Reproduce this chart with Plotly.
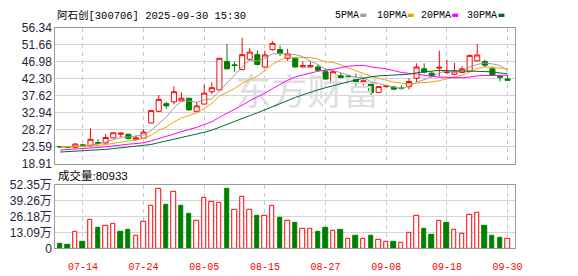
import plotly.graph_objects as go
import pandas as pd

# ---------------- data ----------------
dates = ["07-09", "07-10", "07-11", "07-14", "07-15", "07-16", "07-17", "07-18", "07-21", "07-22",
         "07-23", "07-24", "07-25", "07-28", "07-29", "07-30", "07-31", "08-01", "08-04", "08-05",
         "08-06", "08-07", "08-08", "08-11", "08-12", "08-13", "08-14", "08-15", "08-18", "08-19",
         "08-20", "08-21", "08-22", "08-25", "08-26", "08-27", "08-28", "08-29", "09-01", "09-02",
         "09-03", "09-04", "09-05", "09-08", "09-09", "09-10", "09-11", "09-12", "09-15", "09-16",
         "09-17", "09-18", "09-19", "09-22", "09-23", "09-24", "09-25", "09-26", "09-29", "09-30"]

opens = [23.6, 23.5, 23.4, 24.1, 23.8, 24.7, 24.6, 26.0, 27.0, 27.0,
         25.6, 25.9, 30.1, 33.3, 35.4, 35.9, 36.2, 36.9, 33.3, 35.3,
         38.7, 39.2, 47.0, 46.1, 44.8, 47.6, 48.9, 45.5, 50.3, 50.3,
         47.9, 47.9, 45.5, 45.5, 45.5, 44.2, 41.3, 43.1, 42.95, 42.6,
         41.3, 40.8, 38.5, 40.1, 40.0, 39.7, 40.1, 42.4, 45.0, 43.8,
         45.2, 44.0, 43.5, 44.0, 44.3, 47.2, 47.0, 45.0, 42.9, 42.2]
highs = [23.7, 23.6, 24.5, 24.2, 28.6, 25.6, 27.0, 27.5, 27.4, 27.1,
         26.6, 28.4, 33.6, 37.8, 35.9, 40.2, 38.5, 37.0, 35.9, 40.7,
         41.3, 48.0, 51.8, 47.0, 53.5, 50.7, 50.0, 50.0, 52.6, 51.4,
         50.5, 48.2, 47.0, 47.0, 46.3, 45.0, 44.3, 43.9, 43.3, 43.7,
         42.6, 41.1, 40.2, 40.4, 40.3, 40.5, 42.4, 46.5, 46.5, 44.3,
         50.0, 47.5, 46.6, 45.7, 48.9, 51.8, 47.6, 45.6, 43.0, 43.3]
lows = [23.4, 23.3, 23.2, 23.5, 23.6, 24.3, 24.2, 25.9, 26.1, 25.6,
        25.5, 25.7, 30.0, 33.1, 34.0, 35.2, 35.9, 33.5, 33.2, 35.2,
        38.0, 39.0, 44.8, 44.2, 44.6, 47.2, 45.9, 45.3, 50.0, 48.5,
        47.2, 45.4, 45.4, 45.4, 44.5, 42.0, 41.2, 42.5, 42.1, 40.3,
        40.4, 37.6, 38.4, 39.8, 39.1, 39.2, 39.3, 41.4, 43.7, 42.9,
        42.9, 43.5, 43.3, 43.8, 44.2, 47.0, 45.5, 43.2, 41.5, 41.8]
closes = [23.5, 23.4, 24.3, 23.6, 25.6, 24.5, 26.1, 27.4, 27.3, 25.8,
          26.0, 27.6, 33.5, 36.6, 34.8, 38.7, 36.9, 33.7, 34.8, 38.3,
          39.8, 47.9, 45.0, 45.9, 48.9, 49.6, 46.2, 48.8, 52.0, 49.2,
          49.1, 45.5, 45.9, 45.9, 44.6, 42.2, 44.2, 42.6, 42.9, 41.3,
          41.7, 38.5, 40.1, 40.3, 39.4, 39.6, 41.5, 45.5, 44.1, 43.1,
          45.4, 44.1, 44.4, 45.0, 48.7, 48.8, 46.0, 43.3, 42.7, 41.85]

# estimated closes before 07-09 (implied by the MA levels at the left edge)
prior_closes = [20.6, 20.8, 21.0, 20.9, 21.2, 21.1, 20.9, 21.0, 21.2, 21.3,
                21.4, 21.5, 21.3, 21.6, 21.8, 22.0, 21.9, 22.2, 22.3, 22.5,
                22.9, 23.3, 23.5, 23.6, 23.7, 23.4, 23.6, 23.5, 23.5]

# volume in 万 (10k shares); vol_up: 1 = red (hollow), 0 = green (filled)
volumes = [4.1, 2.6, 13.5, 5.7, 23.4, 16.6, 18.7, 20.3, 13.5, 15.1,
           10.4, 21.9, 35.4, 49.4, 36.2, 46.9, 35.4, 28.6, 22.6, 41.6,
           38.5, 37.5, 48.7, 32.0, 42.4, 32.0, 26.8, 26.8, 35.4, 25.2,
           22.9, 20.8, 15.9, 15.9, 13.8, 16.9, 14.3, 15.1, 8.0, 10.4,
           8.0, 10.4, 7.3, 5.7, 5.7, 4.9, 12.7, 26.8, 15.9, 11.2,
           22.6, 20.8, 15.1, 11.9, 27.6, 29.1, 18.2, 10.4, 8.8, 8.0933]
vol_up = [0, 0, 1, 0, 1, 0, 1, 1, 0, 0, 1, 1, 1, 1, 0, 1, 0, 0, 1, 1,
          1, 1, 0, 1, 1, 1, 0, 1, 1, 0, 1, 0, 1, 1, 0, 0, 1, 0, 1, 0,
          1, 0, 1, 1, 0, 1, 1, 1, 0, 0, 1, 0, 1, 1, 1, 1, 0, 0, 0, 1]

tick_dates = ["07-14", "07-24", "08-05", "08-15", "08-27", "09-08", "09-18", "09-30"]
price_ticks = [18.91, 23.59, 28.27, 32.94, 37.62, 42.30, 46.98, 51.66, 56.34]
price_tick_text = ["18.91", "23.59", "28.27", "32.94", "37.62", "42.30", "46.98", "51.66", "56.34"]
vol_ticks = [0, 13.09, 26.18, 39.26, 52.35]
vol_tick_text = ["0", "13.09万", "26.18万", "39.26万", "52.35万"]

ma_periods = [5, 10, 20, 30]
ma_names = ["5PMA", "10PMA", "20PMA", "30PMA"]
ma_colors = ["#9c9c9c", "#f5a000", "#ff00ff", "#006a2e"]

title_text = "阿石创[300706] 2025-09-30 15:30"
vol_label = "成交量:80933"
watermark = "东方财富"

# ---------------- figure ----------------
W, H = 578, 276
UP, DOWN = "#ff0000", "#008000"
xi = list(range(len(dates)))
tick_idx = [dates.index(d) for d in tick_dates]

def px(x):
    return x / W

def py(y):
    return 1 - y / H

series = pd.Series(prior_closes + closes)
n0 = len(prior_closes)

fig = go.Figure()

# watermark (drawn first so it sits under the marks)
fig.add_trace(go.Scatter(x=[32.6], y=[37.6], mode="text", text=[watermark],
                         textfont=dict(family="Noto Sans CJK SC", size=36, color="#dedee4"),
                         hoverinfo="skip", xaxis="x", yaxis="y"))

for p, name, col in zip(ma_periods, ma_names, ma_colors):
    ma = series.rolling(p).mean().iloc[n0:].tolist()
    fig.add_trace(go.Scatter(x=xi, y=ma, mode="lines", name=name,
                             line=dict(color=col, width=1), xaxis="x", yaxis="y"))

fig.add_trace(go.Candlestick(
    x=xi, open=opens, high=highs, low=lows, close=closes,
    increasing=dict(line=dict(color=UP, width=1), fillcolor="#ffffff"),
    decreasing=dict(line=dict(color=DOWN, width=1), fillcolor=DOWN),
    whiskerwidth=0, xaxis="x", yaxis="y", hoverinfo="skip"))

fig.add_trace(go.Bar(
    x=xi, y=volumes, width=0.58,
    marker=dict(color=["#ffffff" if u else DOWN for u in vol_up],
                line=dict(color=[UP if u else DOWN for u in vol_up], width=1)),
    xaxis="x2", yaxis="y2", hoverinfo="skip"))

X0, X1 = px(56), px(522)
axis_common = dict(showline=True, mirror=True, linecolor="#9a9a9a", linewidth=1,
                   zeroline=False)
xr = [-0.65, 59.95]

fig.update_layout(
    width=W, height=H, margin=dict(l=0, r=0, t=0, b=0),
    paper_bgcolor="white", plot_bgcolor="white", showlegend=False,
    boxgap=0.3, boxgroupgap=0.05,
    bargap=0,
    xaxis=dict(domain=[X0, X1], range=xr, tickvals=tick_idx, showticklabels=False,
               showgrid=True, gridcolor="#c8c8c8", griddash="4px,4px", ticks="",
               rangeslider=dict(visible=False), anchor="y", **axis_common),
    yaxis=dict(domain=[py(165), py(21.7)], range=[18.91, 56.34], tickvals=price_ticks,
               ticktext=price_tick_text, showgrid=True, gridcolor="#d4d4d4", ticks="",
               tickfont=dict(family="Liberation Sans", size=12, color="#1e1e3c"),
               anchor="x", **axis_common),
    xaxis2=dict(domain=[X0, X1], range=xr, tickvals=tick_idx, ticktext=tick_dates,
                showgrid=True, gridcolor="#c8c8c8", griddash="4px,4px",
                ticks="outside", ticklen=9, tickcolor="rgba(0,0,0,0)",
                tickfont=dict(family="Liberation Mono", size=10, color=UP),
                anchor="y2", **axis_common),
    yaxis2=dict(domain=[py(254.3), py(187.3)], range=[0, 52.35], tickvals=vol_ticks,
                ticktext=vol_tick_text, showgrid=True, gridcolor="#d4d4d4", ticks="",
                tickfont=dict(family="Liberation Sans, Noto Sans CJK SC", size=12, color="#1e1e3c"),
                anchor="x2", **axis_common),
)

ann = []
ann.append(dict(x=px(56), y=py(8.5), xref="paper", yref="paper", text=title_text,
                showarrow=False, xanchor="left", yanchor="middle",
                font=dict(family="Liberation Mono, Noto Sans CJK SC", size=10.5, color="#000")))
ann.append(dict(x=px(57), y=py(177), xref="paper", yref="paper", text=vol_label,
                showarrow=False, xanchor="left", yanchor="middle",
                font=dict(family="Liberation Sans, Noto Sans CJK SC", size=11.5, color="#000")))

shapes = []
leg_x = [338, 380, 425, 472]
for lx, name, col in zip(leg_x, ma_names, ma_colors):
    ann.append(dict(x=px(lx), y=py(9), xref="paper", yref="paper", text=name,
                    showarrow=False, xanchor="left", yanchor="middle",
                    font=dict(family="Liberation Mono", size=10, color="#000")))
    sx = lx + 6.1 * len(name) + 3
    shapes.append(dict(type="rect", xref="paper", yref="paper",
                       x0=px(sx), x1=px(sx + 6), y0=py(10.5), y1=py(7.0),
                       fillcolor=col, line=dict(width=0)))

fig.update_layout(annotations=ann, shapes=shapes)

fig.write_html("out.html")
